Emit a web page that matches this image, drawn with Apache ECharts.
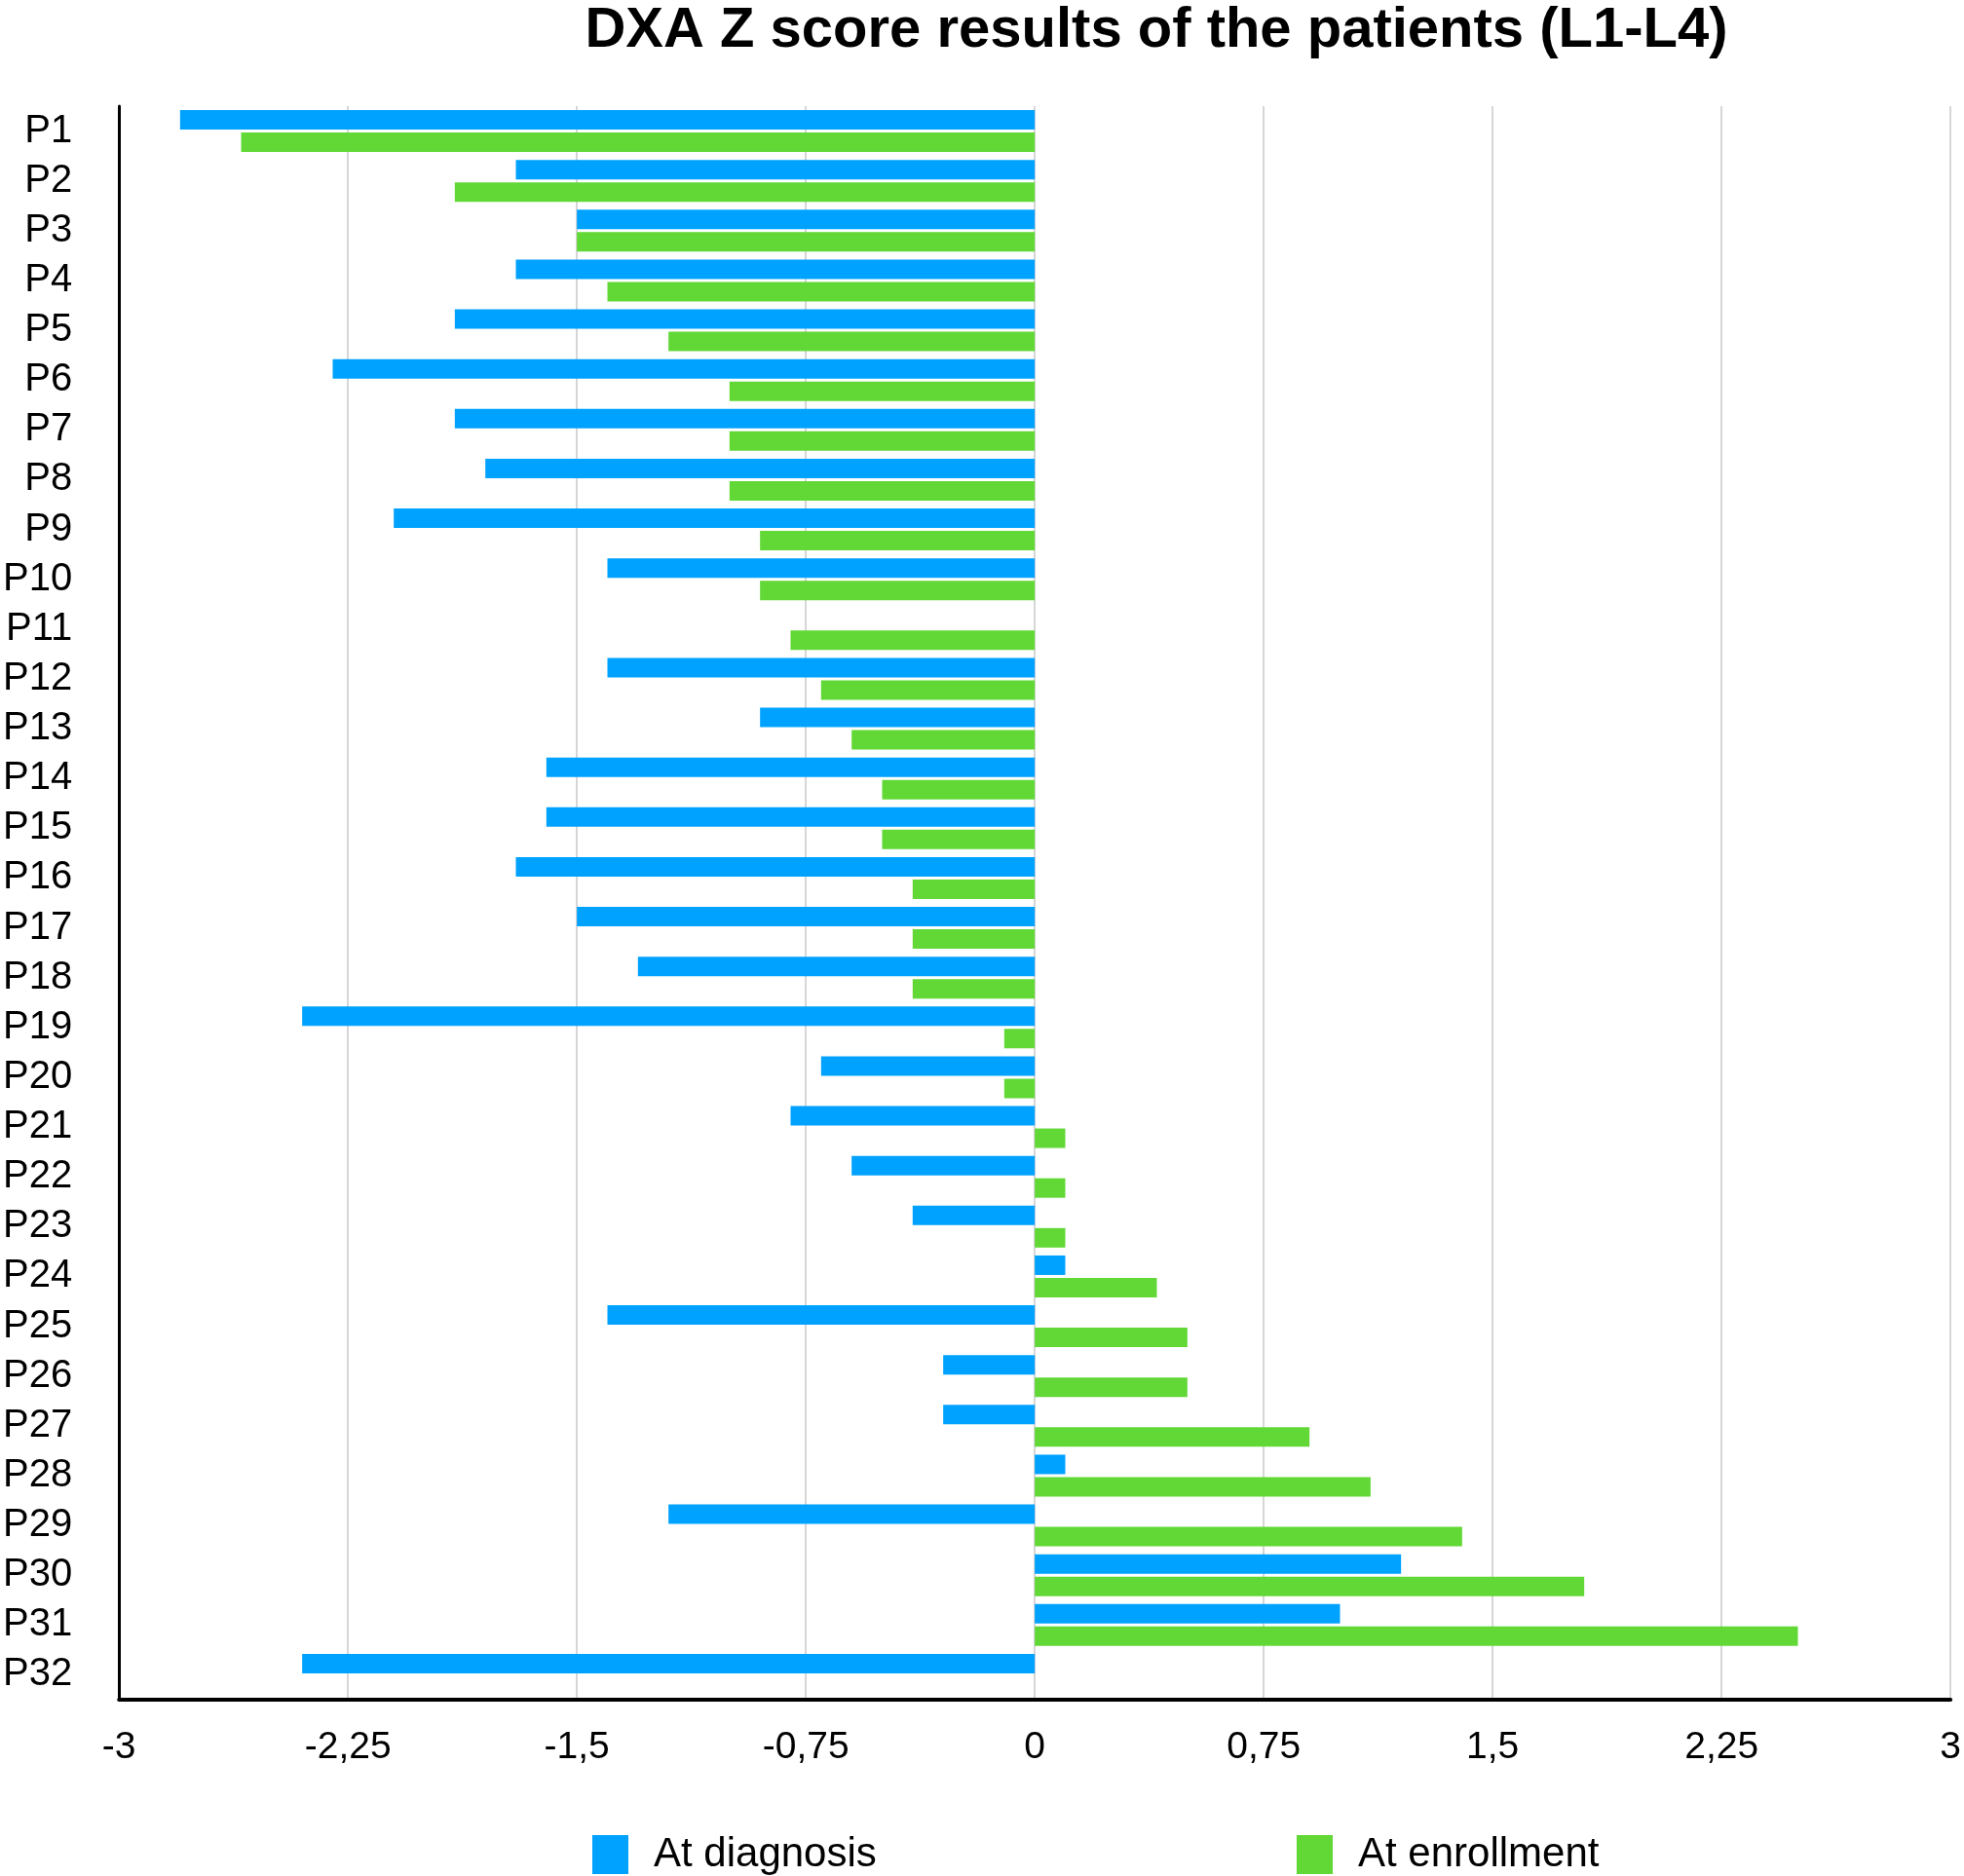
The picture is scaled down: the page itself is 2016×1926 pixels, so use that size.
<!DOCTYPE html>
<html>
<head>
<meta charset="utf-8">
<script src="https://cdn.jsdelivr.net/npm/echarts@6/dist/echarts.min.js"></script>
<style>
	html, body { margin: 0; padding: 0; background: #fff; }
	#chart { width: 2016px; height: 1926px; }
</style>
</head>
<body>
<div id="chart"></div>
<script>
//Patients, top to bottom
let patients = ['P1', 'P2', 'P3', 'P4', 'P5', 'P6', 'P7', 'P8', 'P9', 'P10',
	'P11', 'P12', 'P13', 'P14', 'P15', 'P16', 'P17', 'P18', 'P19', 'P20',
	'P21', 'P22', 'P23', 'P24', 'P25', 'P26', 'P27', 'P28', 'P29', 'P30',
	'P31', 'P32'];

//Z scores (null = no bar)
let atDiagnosis = [-2.8, -1.7, -1.5, -1.7, -1.9, -2.3, -1.9, -1.8, -2.1, -1.4,
	null, -1.4, -0.9, -1.6, -1.6, -1.7, -1.5, -1.3, -2.4, -0.7,
	-0.8, -0.6, -0.4, 0.1, -1.4, -0.3, -0.3, 0.1, -1.2, 1.2,
	1.0, -2.4];
let atEnrollment = [-2.6, -1.9, -1.5, -1.4, -1.2, -1.0, -1.0, -1.0, -0.9, -0.9,
	-0.8, -0.7, -0.6, -0.5, -0.5, -0.4, -0.4, -0.4, -0.1, -0.1,
	0.1, 0.1, 0.1, 0.4, 0.5, 0.5, 0.9, 1.1, 1.4, 1.8,
	2.5, null];

let seriesNames = ['At diagnosis', 'At enrollment'];
let colors = ['#00A2FF', '#61D836'];

//x axis ticks
let xMin = -3;
let xMax = 3;
let xStep = 0.75;

let font = '"Liberation Sans", Arial, sans-serif';

window.onload = function () {
	let chart = echarts.init(document.getElementById('chart'));

	let legendBase = {
		top: 1878,
		itemWidth: 37,
		itemHeight: 40,
		icon: 'rect',
		textStyle: { fontFamily: font, fontSize: 42, color: '#000', padding: [0, 0, 0, 21] }
	};

	chart.setOption({
		animation: false,
		backgroundColor: '#fff',
		title: {
			text: 'DXA Z score results of the patients (L1-L4)',
			left: 1182,
			top: -2,
			textAlign: 'center',
			textStyle: { fontFamily: font, fontSize: 58, fontWeight: 'bold', color: '#000' }
		},
		legend: [
			Object.assign({ left: 603, data: [seriesNames[0]] }, legendBase),
			Object.assign({ left: 1326, data: [seriesNames[1]] }, legendBase)
		],
		grid: { left: 122, right: 13, top: 109, bottom: 181, containLabel: false },
		xAxis: {
			type: 'value',
			min: xMin,
			max: xMax,
			interval: xStep,
			axisLine: { show: true, lineStyle: { color: '#000', width: 4 } },
			axisTick: { show: false },
			splitLine: { show: true, lineStyle: { color: '#C8C8C8', width: 1.5 } },
			axisLabel: {
				margin: 30,
				fontFamily: font,
				fontSize: 39,
				color: '#000',
				formatter: function (v) { return String(v).replace('.', ','); }
			}
		},
		yAxis: {
			type: 'category',
			data: patients,
			inverse: true,
			axisLine: { show: true, onZero: false, lineStyle: { color: '#000', width: 3 } },
			axisTick: { show: false },
			splitLine: { show: false },
			axisLabel: {
				interval: 0,
				margin: 48,
				fontFamily: font,
				fontSize: 40,
				color: '#000'
			}
		},
		series: [
			{
				name: seriesNames[0],
				type: 'bar',
				data: atDiagnosis,
				barWidth: 20,
				barGap: '15%',
				itemStyle: { color: colors[0] }
			},
			{
				name: seriesNames[1],
				type: 'bar',
				data: atEnrollment,
				barWidth: 20,
				barGap: '15%',
				itemStyle: { color: colors[1] }
			}
		]
	});
};
</script>
</body>
</html>
